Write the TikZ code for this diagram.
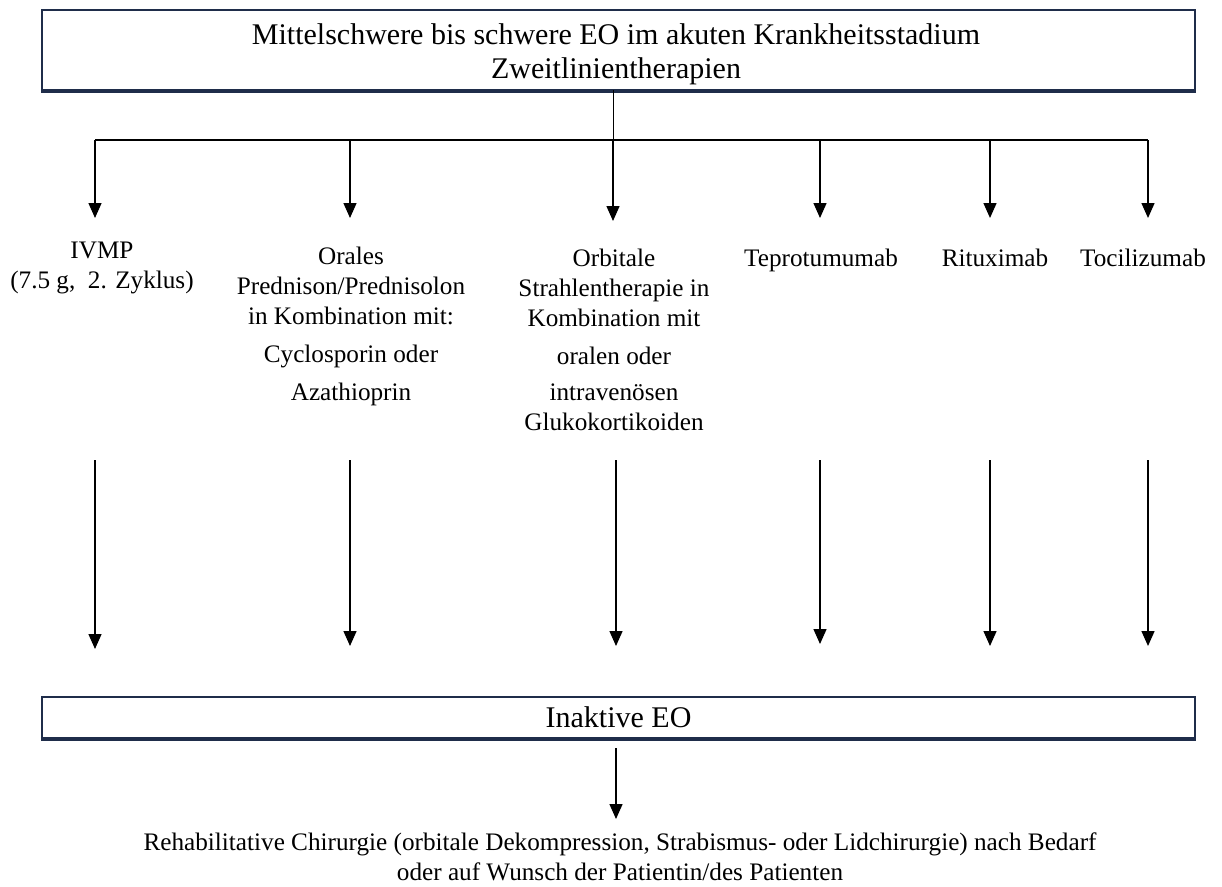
\documentclass[tikz,border=0pt]{standalone}
\usepackage{fontspec}
\setmainfont{Liberation Serif}
\usetikzlibrary{arrows.meta}
\definecolor{navy}{HTML}{1F2D4A}
\begin{document}
\begin{tikzpicture}[x=1pt,y=-1pt,
  box/.style={draw=navy, line width=2.2pt, minimum width=1153pt, inner sep=0pt, fill=white},
  lbl/.style={font=\fontsize{25.2}{30}\selectfont, align=center, inner sep=0pt, anchor=north},
  arr/.style={line width=1.4pt, -{Triangle[width=13pt,length=15pt]}},
  bar/.style={line width=2pt}
]
\useasboundingbox (0,0) rectangle (1222,886);

% top box
\node[box, minimum height=80pt] (top) at (618.5,50) {};
\draw[navy, line width=4pt] (top.south west) -- (top.south east);
\node[font=\fontsize{30}{34}\selectfont, align=center, inner sep=0pt] (toptext) at (616,54)
  {Mittelschwere bis schwere EO im akuten Krankheitsstadium\\Zweitlinientherapien};

% branching bar
\coordinate (stem) at (613,90);
\coordinate (b1) at (95,140);
\coordinate (b2) at (350,140);
\coordinate (b3) at (613,140);
\coordinate (b4) at (820,140);
\coordinate (b5) at (990,140);
\coordinate (b6) at (1148,140);
\draw[line width=1pt] (stem) -- (b3);
\draw[bar] (b1) -- (b6);

% arrow tips (first row)
\coordinate (t1) at (95,218);
\coordinate (t2) at (350,218);
\coordinate (t3) at (613,221);
\coordinate (t4) at (820,218);
\coordinate (t5) at (990,218);
\coordinate (t6) at (1148,218);
\foreach \i in {1,...,6} \draw[arr] (b\i) -- (t\i);

% labels
\node[lbl] (l1) at (102,242) {IVMP\\(7.5 g,\ \ 2. Zyklus)};
\node[lbl] (l2) at (351,247) {Orales\\Prednison/Prednisolon\\in Kombination mit:\\[8pt]Cyclosporin oder\\[8pt]Azathioprin};
\node[lbl] (l3) at (614,249) {Orbitale\\Strahlentherapie in\\Kombination mit\\[8pt]oralen oder\\[6pt]intravenösen\\Glukokortikoiden};
\node[lbl] (l4) at (821,249) {Teprotumumab};
\node[lbl] (l5) at (995,249) {Rituximab};
\node[lbl] (l6) at (1143,249) {Tocilizumab};

% second row arrows
\coordinate (s1) at (95,460);
\coordinate (s2) at (350,460);
\coordinate (s3) at (616,460);
\coordinate (s4) at (820,460);
\coordinate (s5) at (990,460);
\coordinate (s6) at (1148,460);
\coordinate (e1) at (95,649);
\coordinate (e2) at (350,646);
\coordinate (e3) at (616,646);
\coordinate (e4) at (820,644);
\coordinate (e5) at (990,646);
\coordinate (e6) at (1148,646);
\foreach \i in {1,...,6} \draw[arr] (s\i) -- (e\i);

% bottom box
\node[box, minimum height=41pt, font=\fontsize{30}{32}\selectfont] (inak) at (618.5,717.5) {Inaktive EO};
\draw[navy, line width=4pt] (inak.south west) -- (inak.south east);

\coordinate (f0) at (616,748);
\coordinate (f1) at (616,819);
\draw[arr] (f0) -- (f1);

\node[lbl] (reha) at (620,833) {Rehabilitative Chirurgie (orbitale Dekompression, Strabismus- oder Lidchirurgie) nach Bedarf\\oder auf Wunsch der Patientin/des Patienten};
\end{tikzpicture}
\end{document}
